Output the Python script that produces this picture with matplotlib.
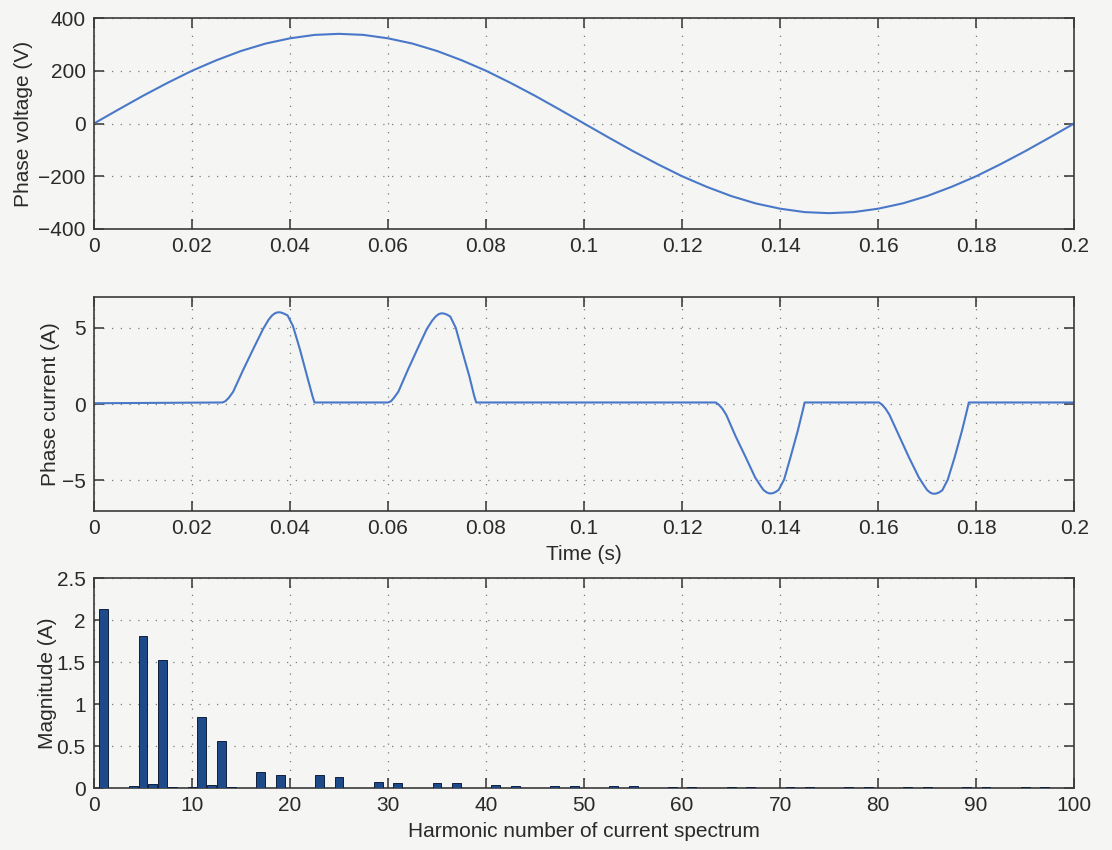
import matplotlib
matplotlib.use("Agg")
import matplotlib.pyplot as plt
from matplotlib.ticker import FuncFormatter

# Phase voltage samples (V), one every 5 ms over one 0.2 s period
volt_t = [0.000, 0.005, 0.010, 0.015, 0.020, 0.025, 0.030, 0.035, 0.040, 0.045,
          0.050, 0.055, 0.060, 0.065, 0.070, 0.075, 0.080, 0.085, 0.090, 0.095,
          0.100, 0.105, 0.110, 0.115, 0.120, 0.125, 0.130, 0.135, 0.140, 0.145,
          0.150, 0.155, 0.160, 0.165, 0.170, 0.175, 0.180, 0.185, 0.190, 0.195,
          0.200]
volt_v = [0, 53, 105, 154, 200, 240, 275, 303, 323, 336,
          340, 336, 323, 303, 275, 240, 200, 154, 105, 53,
          0, -53, -105, -154, -200, -240, -275, -303, -323, -336,
          -340, -336, -323, -303, -275, -240, -200, -154, -105, -53,
          0]

# Phase current (A): four conduction pulses, flat in between
curr_t = [0.0000,
          0.0262, 0.0268, 0.0275, 0.0284, 0.0304, 0.0325, 0.0345, 0.0356, 0.0363, 0.0369,
          0.0374, 0.0378, 0.0382, 0.0387, 0.0395, 0.0406, 0.0420, 0.0435, 0.0446, 0.0450,
          0.0600, 0.0606, 0.0612, 0.0621, 0.0640, 0.0660, 0.0679, 0.0690, 0.0697, 0.0703,
          0.0707, 0.0711, 0.0715, 0.0720, 0.0727, 0.0738, 0.0751, 0.0766, 0.0776, 0.0780,
          0.1269, 0.1275, 0.1282, 0.1290, 0.1309, 0.1330, 0.1349, 0.1360, 0.1366, 0.1372,
          0.1377, 0.1381, 0.1385, 0.1390, 0.1397, 0.1408, 0.1421, 0.1436, 0.1446, 0.1450,
          0.1602, 0.1608, 0.1615, 0.1623, 0.1643, 0.1663, 0.1683, 0.1694, 0.1700, 0.1706,
          0.1711, 0.1715, 0.1719, 0.1724, 0.1731, 0.1742, 0.1756, 0.1771, 0.1781, 0.1785,
          0.2000]
curr_i = [0.05,
          0.1, 0.18, 0.4, 0.8, 2.2, 3.6, 4.9, 5.5, 5.78, 5.93,
          5.99, 6.0, 5.98, 5.92, 5.8, 5.1, 3.6, 1.8, 0.5, 0.1,
          0.1, 0.18, 0.4, 0.8, 2.2, 3.6, 4.9, 5.45, 5.72, 5.87,
          5.92, 5.93, 5.91, 5.85, 5.72, 5.0, 3.5, 1.8, 0.5, 0.1,
          0.1, -0.05, -0.3, -0.7, -2.1, -3.5, -4.8, -5.35, -5.62, -5.77,
          -5.84, -5.85, -5.83, -5.77, -5.62, -4.95, -3.5, -1.75, -0.45, 0.1,
          0.1, -0.05, -0.3, -0.7, -2.1, -3.5, -4.8, -5.35, -5.63, -5.79,
          -5.86, -5.87, -5.85, -5.79, -5.64, -4.95, -3.5, -1.75, -0.45, 0.1,
          0.1]

# Harmonic spectrum of the current
harmonics = [1, 3, 4, 5, 6, 7, 8, 10, 11, 12, 13, 14, 17, 19, 23, 25, 29, 31,
             35, 37, 41, 43, 47, 49, 53, 55, 59, 61, 65, 67, 71, 73, 77, 79,
             83, 85, 89, 91, 95, 97]
magnitude = [2.13, 0.005, 0.02, 1.81, 0.05, 1.52, 0.015, 0.015, 0.85, 0.04, 0.56, 0.012,
             0.19, 0.16, 0.15, 0.13, 0.075, 0.065, 0.055, 0.055, 0.035, 0.03, 0.022, 0.025,
             0.02, 0.02, 0.018, 0.015, 0.012, 0.012, 0.01, 0.01, 0.01, 0.01,
             0.008, 0.008, 0.008, 0.008, 0.007, 0.007]

BG = "#f5f5f3"
LINE = "#4a78c8"
TXT = "#2a2a2a"

plt.rcParams["font.family"] = ["Liberation Sans", "DejaVu Sans"]
plt.rcParams["font.size"] = 15

fig = plt.figure(figsize=(11.12, 8.5), dpi=100, facecolor=BG)

ax1 = fig.add_axes([0.0845, 0.7306, 0.8815, 0.2482])
ax2 = fig.add_axes([0.0845, 0.3988, 0.8815, 0.2518])
ax3 = fig.add_axes([0.0845, 0.0729, 0.8815, 0.2471])

fmt = FuncFormatter(lambda v, pos: f"{v:g}".replace("-", "\u2212"))


def style(ax):
    ax.set_facecolor(BG)
    ax.grid(True, color="#7a7a7a", linestyle=(0, (1, 6)), linewidth=0.9)
    ax.tick_params(direction="in", top=True, right=True, length=7, width=1.1,
                   color="#333333", labelcolor=TXT, pad=6)
    for sp in ax.spines.values():
        sp.set_color("#3a3a3a")
        sp.set_linewidth(1.2)
    ax.xaxis.set_major_formatter(fmt)
    ax.yaxis.set_major_formatter(fmt)


# voltage
ax1.plot(volt_t, volt_v, color=LINE, linewidth=1.5)
ax1.set_xlim(0, 0.2)
ax1.set_ylim(-400, 400)
ax1.set_xticks([0, 0.02, 0.04, 0.06, 0.08, 0.1, 0.12, 0.14, 0.16, 0.18, 0.2])
ax1.set_yticks([-400, -200, 0, 200, 400])
ax1.set_ylabel("Phase voltage (V)", color=TXT, labelpad=4)
style(ax1)

# current
ax2.plot(curr_t, curr_i, color=LINE, linewidth=1.5)
ax2.set_xlim(0, 0.2)
ax2.set_ylim(-7, 7)
ax2.set_xticks([0, 0.02, 0.04, 0.06, 0.08, 0.1, 0.12, 0.14, 0.16, 0.18, 0.2])
ax2.set_yticks([-5, 0, 5])
ax2.set_ylabel("Phase current (A)", color=TXT, labelpad=1)
ax2.set_xlabel("Time (s)", color=TXT, labelpad=5)
style(ax2)

# spectrum
ax3.bar(harmonics, magnitude, width=0.9, color="#1f4a8a",
        edgecolor="#0f1f3d", linewidth=0.7, zorder=3)
ax3.set_xlim(0, 100)
ax3.set_ylim(0, 2.5)
ax3.set_xticks(range(0, 101, 10))
ax3.set_yticks([0, 0.5, 1, 1.5, 2, 2.5])
ax3.set_ylabel("Magnitude (A)", color=TXT, labelpad=0)
ax3.set_xlabel("Harmonic number of current spectrum", color=TXT, labelpad=5)
style(ax3)

fig.savefig("out.png", dpi=100, facecolor=BG)
